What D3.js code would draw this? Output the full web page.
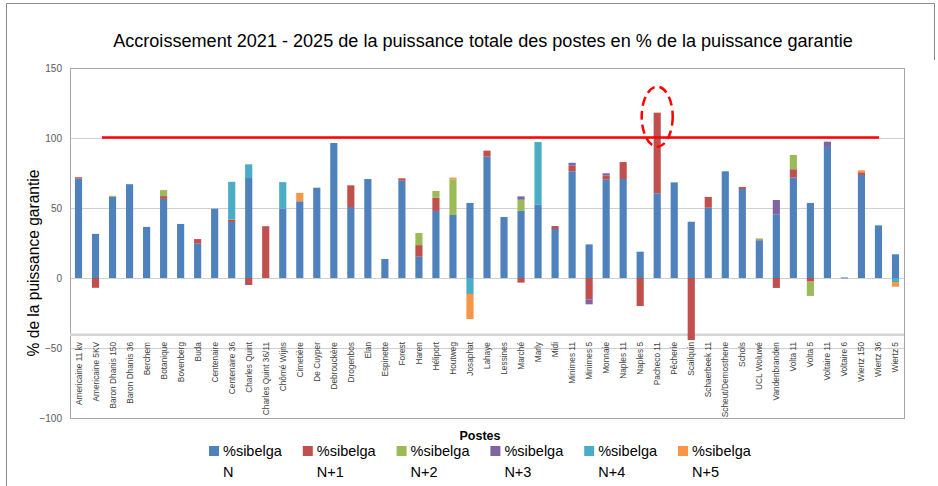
<script src="https://d3js.org/d3.v7.min.js"></script>
<style>
  body { margin: 0; background: #fff; }
  text { font-family: "Liberation Sans", Arial, sans-serif; }
</style>
<div id="graph"></div>
<script>

// Postes (categories)
var postes = ["Americaine 11 kv", "Americaine 5KV", "Baron Dhanis 150", "Baron Dhanis 36", "Berchem",
  "Botanique", "Bovenberg", "Buda", "Centenaire", "Centenaire 36", "Charles Quint", "Charles Quint 36/11",
  "Chômé Wijns", "Cimetière", "De Cuyper", "Debrouckère", "Drogenbos", "Elan", "Espinette", "Forest",
  "Haren", "Héliport", "Houtweg", "Josaphat", "Lahaye", "Lessines", "Marché", "Marly", "Midi",
  "Minimes 11", "Minimes 5", "Monnaie", "Naples 11", "Naples 5", "Pacheco 11", "Pêcherie", "Scailquin",
  "Schaerbeek 11", "Scheut/Demosthene", "Schols", "UCL Woluwé", "Vandenbranden", "Volta 11", "Volta 5",
  "Voltaire 11", "Voltaire 6", "Wiertz 150", "Wiertz 36", "Wiertz 5"]

// %sibelga per year
var sN  = [71, 31.5, 58, 67, 36.5, 56.5, 38.6, 24.5, 49.5, 40, 71.4, 0, 49.5, 54.8, 64.5, 96.4, 50.7, 70.7, 13.6, 69.5,
  15.2, 47.9, 45, 53.6, 86.7, 43.6, 47.9, 52.6, 35, 76.2, 24, 70.2, 70.7, 18.8, 60.5, 68.3, 40.2, 50.2, 76.2, 63.6,
  26.9, 45.2, 71.7, 53.6, 93.6, 0.4, 73.6, 37.6, 16.9]
var sN1 = [1, -7, 0, 0, 0, 2, 0, 3.3, 0, 1.7, -5, 37, 0, 0, 0, 0, 15.5, 0, 0, 1.7,
  8.3, 9.5, 0, 0, 4.3, 0, -3.3, 0, 2.1, 4, -15.2, 2.9, 12.1, -20, 57.6, 0, -44.3, 7.7, 0, 1.4,
  0.7, -7.1, 6, -2.6, 0, 0, 1.9, 0, 0]
var sN2 = [0, 0, 0.7, 0, 0, 4.3, 0, 0, 0, 0, 0, 0, 0, 0, 0, 0, 0, 0, 0, 0,
  8.6, 4.8, 25.5, 0, 0, 0, 8, 0, 0, 0, 0, 0, 0, 0, 0, 0, 0, 0, 0, 0,
  0.7, 0, 10.2, -10.2, 0, 0, 0, 0, 0]
var sN3 = [0, 0, 0, 0, 0, 0, 0, 0, 0, 0, 0, 0, 0, 0, 0, 0, 0, 0, 0, 0,
  0, 0, 0, 0, 0, 0, 2.4, 0, 0, 2.1, -3.6, 1.7, 0, 0, 0, 0, 0, 0, 0, 0,
  0, 10.5, 0, 0, 3.8, 0, 0, 0, 0]
var sN4 = [0, 0, 0, 0, 0, 0, 0, 0, 0, 27, 9.8, 0, 19, 0, 0, 0, 0, 0, 0, 0,
  0, 0, 0, -11.4, 0, 0, 0, 44.5, 0, 0, 0, 0, 0, 0, 0, 0, 0, 0, 0, 0,
  0, 0, 0, 0, 0, 0, 0, 0, -2.9]
var sN5 = [0, 0, 0, 0, 0, 0, 0, 0, 0, 0, 0, 0, 0, 6, 0, 0, 0, 0, 0, 0,
  0, 0, 1.2, -17.9, 0, 0, 0, 0, 0, 0, 0, 0, 0, 0, 0, 0, 0, 0, 0, 0,
  0, 0, 0, 0, 0, 0, 1.4, 0, -3.3]

var seriesKeys = ["N", "N+1", "N+2", "N+3", "N+4", "N+5"]
var seriesColors = ["#4F81BD", "#C0504D", "#9BBB59", "#8064A2", "#4BACC6", "#F79646"]
var yTicks = [150, 100, 50, 0, -50, -100]
var target = 100

var title = "Accroissement 2021 - 2025 de la puissance totale des postes en % de la puissance garantie"

// build rows for d3.stack
var allSeries = [sN, sN1, sN2, sN3, sN4, sN5]
var rows = postes.map(function(p, i) {
  var r = {poste: p}
  seriesKeys.forEach(function(k, j) { r[k] = allSeries[j][i] })
  return r
})

var W = 938, H = 486
var plot = {left: 70, right: 904, top: 68, bottom: 418}

var svg = d3.select("#graph").append("svg")
  .attr("width", W).attr("height", H)

// outer frame
svg.append("path")
  .attr("d", "M6.5," + H + "V3.5H934.5V60")
  .attr("fill", "none").attr("stroke", "#8c8c8c").attr("stroke-width", 1)

// scales
var x = d3.scaleBand().domain(postes)
  .range([plot.left, plot.right])
  .paddingInner(0.58).paddingOuter(0.29)

var y = d3.scaleLinear().domain([-100, 150]).range([plot.bottom, plot.top])

// gridlines
svg.append("g")
  .selectAll("line").data(yTicks).join("line")
  .attr("x1", plot.left).attr("x2", plot.right)
  .attr("y1", function(d) { return y(d) + 0.5 }).attr("y2", function(d) { return y(d) + 0.5 })
  .attr("stroke", "#d0d0d0")

// plot border
svg.append("rect")
  .attr("x", plot.left + 0.5).attr("y", plot.top + 0.5)
  .attr("width", plot.right - plot.left).attr("height", plot.bottom - plot.top)
  .attr("fill", "none").attr("stroke", "#a6a6a6")

// y axis
var yAxis = svg.append("g")
  .attr("transform", "translate(" + plot.left + ",0)")
  .call(d3.axisLeft(y).tickValues(yTicks).tickSize(0).tickPadding(8))
yAxis.select(".domain").attr("stroke", "#a6a6a6")
yAxis.selectAll("text").attr("fill", "#595959").style("font-size", "10px")
  .style("font-family", "'Liberation Sans', Arial, sans-serif")

// category axis line (crosses at about -40)
svg.append("line")
  .attr("x1", plot.left).attr("x2", plot.right)
  .attr("y1", y(-40.5)).attr("y2", y(-40.5))
  .attr("stroke", "#d6d6d6").attr("stroke-width", 2.5)

// stacked bars
var stack = d3.stack().keys(seriesKeys).offset(d3.stackOffsetDiverging)
var stacked = stack(rows)

svg.append("g")
  .selectAll("g").data(stacked).join("g")
  .attr("fill", function(d, i) { return seriesColors[i] })
  .selectAll("rect").data(function(d) { return d.filter(function(v) { return v[1] !== v[0] }) })
  .join("rect")
  .attr("x", function(d) { return x(d.data.poste) })
  .attr("width", x.bandwidth())
  .attr("y", function(d) { return y(Math.max(d[0], d[1])) })
  .attr("height", function(d) { return Math.max(1, Math.abs(y(d[0]) - y(d[1]))) })

// category labels
svg.append("g")
  .selectAll("text").data(postes).join("text")
  .attr("transform", function(d) {
    return "translate(" + (x(d) + x.bandwidth() / 2 + 3) + "," + 342 + ") rotate(-90)"
  })
  .attr("text-anchor", "end")
  .attr("fill", "#404040")
  .style("font-size", "8.3px")
  .text(function(d) { return d })

// target line at 100 %
svg.append("line")
  .attr("x1", 102).attr("x2", 879)
  .attr("y1", y(target) - 0.5).attr("y2", y(target) - 0.5)
  .attr("stroke", "#FF0000").attr("stroke-width", 2.5)

// dashed ellipse around Pacheco 11
var pIdx = postes.indexOf("Pacheco 11")
svg.append("ellipse")
  .attr("cx", x(postes[pIdx]) + x.bandwidth() / 2)
  .attr("cy", y(sN[pIdx] + sN1[pIdx]) + 4)
  .attr("rx", 15.5).attr("ry", 30)
  .attr("fill", "none").attr("stroke", "#FF0000")
  .attr("stroke-width", 2.5).attr("stroke-dasharray", "9,5")

function fit(sel, w) {
  var len = sel.node().getComputedTextLength()
  var fs = parseFloat(sel.style("font-size"))
  sel.style("font-size", (fs * w / len) + "px")
}

// title
var t = svg.append("text")
  .attr("x", 483).attr("y", 47)
  .attr("text-anchor", "middle").attr("fill", "#000")
  .style("font-size", "20px").text(title)
fit(t, 740)

// y title
var yt = svg.append("text")
  .attr("transform", "translate(39,263) rotate(-90)")
  .attr("text-anchor", "middle").attr("fill", "#000")
  .style("font-size", "17px").text("% de la puissance garantie")
fit(yt, 187)

// x title
var xt = svg.append("text")
  .attr("x", 480).attr("y", 440)
  .attr("text-anchor", "middle").attr("font-weight", "bold")
  .style("font-size", "14px").text("Postes")
fit(xt, 41)

// legend
var leg = svg.append("g").selectAll("g").data(seriesKeys).join("g")
  .attr("transform", function(d, i) { return "translate(" + (209 + i * 93.8) + ",0)" })
leg.append("rect").attr("x", 0).attr("y", 446).attr("width", 10).attr("height", 10)
  .attr("fill", function(d, i) { return seriesColors[i] })
leg.append("text").attr("x", 14).attr("y", 456).style("font-size", "14.5px").text("%sibelga")
leg.append("text").attr("x", 14).attr("y", 477).style("font-size", "14.5px").text(function(d) { return d })

</script>
